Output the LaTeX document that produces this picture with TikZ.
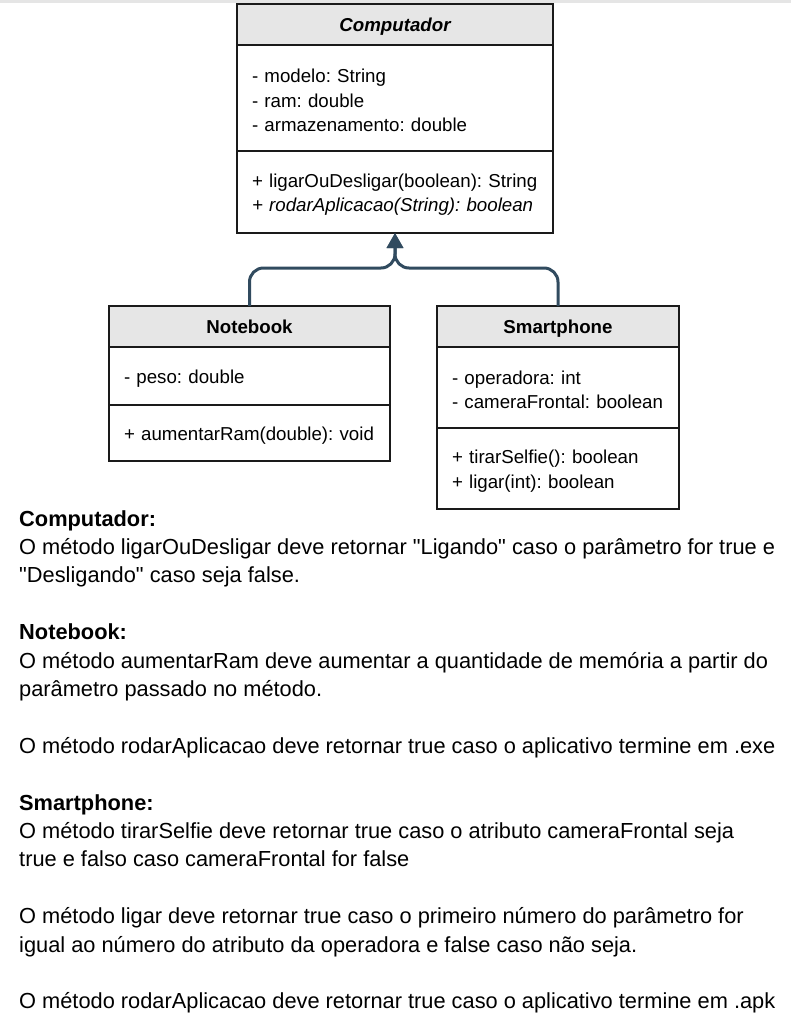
\documentclass[tikz,border=0pt]{standalone}
\usepackage{fontspec}
\setmainfont{Liberation Sans}[Ligatures=TeXOff]
\usetikzlibrary{arrows.meta}
\definecolor{umlgray}{HTML}{E6E6E6}
\definecolor{umlline}{HTML}{1A1A1A}
\definecolor{inhline}{HTML}{314B5F}
\newcommand{\umlfont}{\fontsize{18.7}{24.5}\selectfont\frenchspacing}
\newcommand{\notefont}{\fontsize{21.8}{28.4}\selectfont\frenchspacing}
\tikzstyle{classbox}=[draw=umlline, line width=1.2pt, outer sep=0pt, anchor=north west]
\tikzstyle{classhead}=[classbox, fill=umlgray, inner sep=0pt, minimum height=41pt, text height=13.4pt, text depth=0pt, font=\umlfont\bfseries]
\tikzstyle{classbody}=[classbox, align=left, inner xsep=15pt, inner ysep=0pt, font=\umlfont, execute at begin node={\rule{0pt}{18.5pt}}]
\tikzstyle{inherit}=[draw=inhline, line width=3pt, rounded corners=14pt, -{Triangle[length=15pt, width=16pt]}]
\tikzstyle{notes}=[anchor=north west, inner sep=0pt, align=left, font=\notefont]

\begin{document}
\begin{tikzpicture}[x=1pt, y=-1pt]
        \useasboundingbox (0,0) rectangle (791,1023);
        \fill[gray!20] (0,0) rectangle (791,2.5);
        \node[classhead, minimum width=316pt] (Comp) at (237,4) {\itshape Computador};
        \node[classbody, text width=286pt, minimum height=106pt] (CompAttr) at (Comp.south west) {- modelo: String\\- ram: double\\- armazenamento: double};
        \node[classbody, text width=286pt, minimum height=82pt] (CompMeth) at (CompAttr.south west) {+ ligarOuDesligar(boolean): String\\\itshape + rodarAplicacao(String): boolean};
        \node[classhead, minimum width=281pt] (Note) at (109,306) {Notebook};
        \node[classbody, text width=251pt, minimum height=58pt] (NoteAttr) at (Note.south west) {- peso: double};
        \node[classbody, text width=251pt, minimum height=56pt] (NoteMeth) at (NoteAttr.south west) {+ aumentarRam(double): void};
        \node[classhead, minimum width=242pt] (Smart) at (437,306) {Smartphone};
        \node[classbody, text width=212pt, minimum height=81pt] (SmartAttr) at (Smart.south west) {- operadora: int\\- cameraFrontal: boolean};
        \node[classbody, text width=212pt, minimum height=81pt] (SmartMeth) at (SmartAttr.south west) {+ tirarSelfie(): boolean\\+ ligar(int): boolean};
        \draw[inherit] (Note.north) -- ++(0,-38) -| (CompMeth.south);
        \draw[inherit] (Smart.north) -- ++(0,-38) -| (CompMeth.south);
        \node[notes] (Notes) at (19,510) {\textbf{Computador:}\\
O método ligarOuDesligar deve retornar "Ligando" caso o parâmetro for true e\\
"Desligando" caso seja false.\\[28.4pt]
\textbf{Notebook:}\\
O método aumentarRam deve aumentar a quantidade de memória a partir do\\
parâmetro passado no método.\\[28.4pt]
O método rodarAplicacao deve retornar true caso o aplicativo termine em .exe\\[28.4pt]
\textbf{Smartphone:}\\
O método tirarSelfie deve retornar true caso o atributo cameraFrontal seja\\
true e falso caso cameraFrontal for false\\[28.4pt]
O método ligar deve retornar true caso o primeiro número do parâmetro for\\
igual ao número do atributo da operadora e false caso não seja.\\[28.4pt]
O método rodarAplicacao deve retornar true caso o aplicativo termine em .apk};
    \end{tikzpicture}
\end{document}
